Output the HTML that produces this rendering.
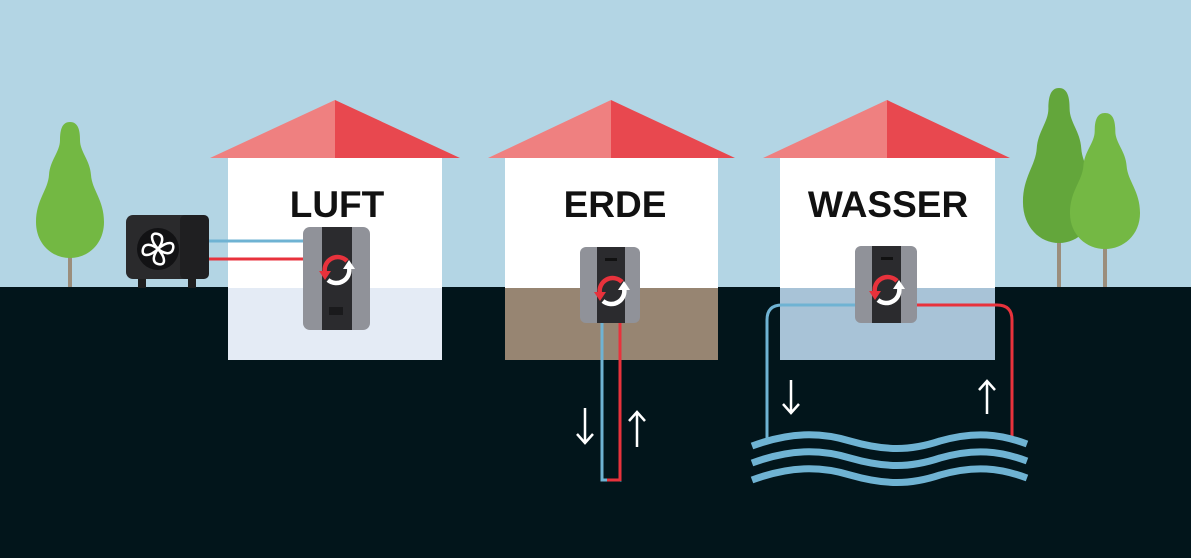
<!DOCTYPE html>
<html><head><style>html,body{margin:0;padding:0;background:#02151b}svg{display:block}</style></head><body>
<svg width="1191" height="558" viewBox="0 0 1191 558" xmlns="http://www.w3.org/2000/svg">
<defs>
<g id="cyc">
 <path d="M10,-9 A13,13 0 0 0 -12,3" fill="none" stroke="#e8323c" stroke-width="4.5"/>
 <polygon points="-18,1 -6,1 -12,10" fill="#e8323c"/>
 <path d="M-9,10 A13,13 0 0 0 12,-3" fill="none" stroke="#fff" stroke-width="4.5"/>
 <polygon points="18,-1 6,-1 12,-10" fill="#fff"/>
</g>
<path id="tree" d="M0,0 C8,0 10,8 10,18 C10,30 20,38 21,53 C22,68 34,78 34,100 C34,122 18,136 0,136 C-18,136 -34,122 -34,100 C-34,78 -22,68 -21,53 C-20,38 -10,30 -10,18 C-10,8 -8,0 0,0Z"/>
</defs>
<rect x="0" y="0" width="1191" height="287" fill="#b3d5e4"/>
<rect x="0" y="287" width="1191" height="271" fill="#02151b"/>

<!-- left tree -->
<rect x="68" y="200" width="4" height="87" fill="#9b8e7c"/>
<use href="#tree" fill="#73b843" transform="translate(70,122)"/>
<!-- right trees -->
<rect x="1057" y="240" width="4" height="47" fill="#9b8e7c"/>
<use href="#tree" fill="#63a63b" transform="translate(1059,88) scale(1.06,1.14)"/>
<rect x="1103" y="245" width="4" height="42" fill="#9b8e7c"/>
<use href="#tree" fill="#74b844" transform="translate(1105,113) scale(1.03,1.0)"/>

<!-- houses -->
<g>
<rect x="228" y="158" width="214" height="130" fill="#fff"/>
<rect x="228" y="288" width="214" height="72" fill="#e4ebf5"/>
<polygon points="210,158 335,100 335,158" fill="#ef8080"/>
<polygon points="335,100 460,158 335,158" fill="#e8484f"/>
<text x="337" y="217" font-family="Liberation Sans,sans-serif" font-weight="bold" font-size="37" text-anchor="middle" fill="#111">LUFT</text>

<rect x="505" y="158" width="213" height="130" fill="#fff"/>
<rect x="505" y="288" width="213" height="72" fill="#978572"/>
<polygon points="488,158 611,100 611,158" fill="#ef8080"/>
<polygon points="611,100 735,158 611,158" fill="#e8484f"/>
<text x="615" y="217" font-family="Liberation Sans,sans-serif" font-weight="bold" font-size="37" text-anchor="middle" fill="#111">ERDE</text>

<rect x="780" y="158" width="215" height="130" fill="#fff"/>
<rect x="780" y="288" width="215" height="72" fill="#a8c3d7"/>
<polygon points="763,158 887,100 887,158" fill="#ef8080"/>
<polygon points="887,100 1010,158 887,158" fill="#e8484f"/>
<text x="888" y="217" font-family="Liberation Sans,sans-serif" font-weight="bold" font-size="37" text-anchor="middle" fill="#111">WASSER</text>
</g>

<!-- outdoor unit -->
<rect x="138" y="272" width="8" height="16" fill="#1e1e1e"/>
<rect x="188" y="272" width="8" height="16" fill="#1e1e1e"/>
<rect x="126" y="215" width="83" height="64" rx="7" fill="#2a2a2c"/>
<rect x="180" y="215" width="29" height="64" rx="5" fill="#1f1f21"/>
<circle cx="158" cy="249" r="21" fill="#121214"/>
<g fill="none" stroke="#fff" stroke-width="2.5">
<path d="M158,249 C150,240 150,232 158,234 C165,236 162,244 158,249Z"/>
<path d="M158,249 C167,241 175,241 173,249 C171,256 163,253 158,249Z"/>
<path d="M158,249 C166,258 166,266 158,264 C151,262 154,254 158,249Z"/>
<path d="M158,249 C149,257 141,257 143,249 C145,242 153,245 158,249Z"/>
</g>
<line x1="209" y1="241" x2="305" y2="241" stroke="#6fb3d3" stroke-width="3"/>
<line x1="209" y1="259" x2="305" y2="259" stroke="#e8323c" stroke-width="3"/>

<!-- unit 1 -->
<rect x="303" y="227" width="67" height="103" rx="7" fill="#909299"/>
<rect x="322" y="227" width="30" height="103" fill="#2b2b2e"/>
<rect x="329" y="307" width="14" height="8" fill="#1a1a1c"/>
<use href="#cyc" x="337" y="270"/>

<!-- erde pipes -->
<polyline points="602,320 602,480 620,480 620,320" fill="none" stroke="#6fb3d3" stroke-width="3"/>
<line x1="620" y1="320" x2="620" y2="481" stroke="#e8323c" stroke-width="3"/>
<line x1="607" y1="480" x2="620" y2="480" stroke="#e8323c" stroke-width="3"/>
<rect x="580" y="247" width="60" height="76" rx="6" fill="#909299"/>
<rect x="597" y="247" width="28" height="76" fill="#2b2b2e"/>
<rect x="605" y="258" width="12" height="3" fill="#111"/>
<use href="#cyc" x="612" y="291"/>
<g stroke="#fff" stroke-width="2.5" fill="none">
<path d="M585,408 V443 M577,434 L585,443 L593,434"/>
<path d="M637,447 V412 M629,421 L637,412 L645,421"/>
<path d="M791,380 V413 M783,404 L791,413 L799,404"/>
<path d="M987,414 V381 M979,390 L987,381 L995,390"/>
</g>

<!-- wasser pipes -->
<path d="M857,305 H782 Q767,305 767,320 V442" fill="none" stroke="#6fb3d3" stroke-width="3"/>
<path d="M917,305 H997 Q1012,305 1012,320 V440" fill="none" stroke="#e8323c" stroke-width="3"/>
<rect x="855" y="246" width="62" height="77" rx="6" fill="#909299"/>
<rect x="872" y="246" width="29" height="77" fill="#2b2b2e"/>
<rect x="881" y="257" width="12" height="3" fill="#111"/>
<use href="#cyc" x="887" y="290"/>
<g fill="none" stroke="#6fb3d3" stroke-width="7">
<path d="M752,446 C790,432 820,432 850,441 C885,451 910,451 940,441 C975,431 1000,434 1027,444"/>
<path d="M752,463 C790,449 820,449 850,458 C885,468 910,468 940,458 C975,448 1000,451 1027,461"/>
<path d="M752,480 C790,466 820,466 850,475 C885,485 910,485 940,475 C975,465 1000,468 1027,478"/>
</g>
</svg>
</body></html>
